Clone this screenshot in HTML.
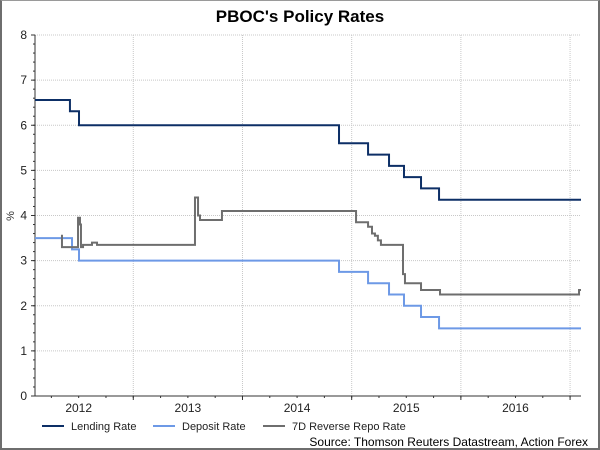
<!DOCTYPE html>
<html><head><meta charset="utf-8"><style>
html,body{margin:0;padding:0;background:#fff}
#wrap{position:relative;width:600px;height:450px;box-sizing:border-box;border:2px solid #6e6e6e;border-top:1px solid #9a9a9a;background:#fff;overflow:hidden}
svg{position:absolute;left:-2px;top:-1px;font-family:"Liberation Sans",Arial,sans-serif}
</style></head><body>
<div id="wrap">
<svg id="chart" width="600" height="450">
<text x="300" y="22" text-anchor="middle" font-size="17" font-weight="bold" fill="#000">PBOC's Policy Rates</text>
<text x="14" y="216" font-size="11" fill="#333" transform="rotate(-90 14 216)" text-anchor="middle">%</text>
<g id="grid"></g><g id="axes"></g><g id="series"></g>
<g>
<line x1="42" y1="426" x2="64" y2="426" stroke="#0d2f66" stroke-width="2"/>
<text x="71" y="430" font-size="11" fill="#222">Lending Rate</text>
<line x1="153" y1="426" x2="175" y2="426" stroke="#6d99e6" stroke-width="2"/>
<text x="182" y="430" font-size="11" fill="#222">Deposit Rate</text>
<line x1="263" y1="426" x2="285" y2="426" stroke="#6e6e6e" stroke-width="2"/>
<text x="292" y="430" font-size="11" fill="#222">7D Reverse Repo Rate</text>
</g>
<text x="588" y="446" text-anchor="end" font-size="12" fill="#000">Source: Thomson Reuters Datastream, Action Forex</text>
</svg></div>
<script>
const yTicks=[0,1,2,3,4,5,6,7,8];
const yearLabels=["2012","2013","2014","2015","2016"];
const lendT=[2012.1,2012.42,2012.503,2014.884,2015.15,2015.342,2015.479,2015.635,2015.8,2017.1];
const lendV=[6.56,6.31,6.0,5.6,5.35,5.1,4.85,4.6,4.35,4.35];
const depT=[2012.1,2012.439,2012.503,2014.884,2015.15,2015.342,2015.479,2015.635,2015.8,2017.1];
const depV=[3.5,3.25,3.0,2.75,2.5,2.25,2.0,1.75,1.5,1.5];
const repoT=[2012.338,2012.347,2012.494,2012.512,2012.521,2012.54,2012.622,2012.668,2013.565,2013.593,2013.611,2013.812,2015.04,2015.15,2015.186,2015.213,2015.24,2015.268,2015.47,2015.488,2015.635,2015.809,2017.082,2017.1];
const repoV=[3.55,3.3,3.95,3.8,3.3,3.35,3.4,3.35,4.4,4.0,3.9,4.1,3.85,3.75,3.6,3.55,3.45,3.35,2.7,2.5,2.35,2.25,2.35,2.35];
const L=35,R=581,T=35,B=396,t0=2012.1,t1=2017.1;
const xS=t=>L+(t-t0)/(t1-t0)*(R-L);
const yS=v=>B-v/8*(B-T);
const NS="http://www.w3.org/2000/svg";
function mk(tag,attrs,parent){const e=document.createElementNS(NS,tag);for(const k in attrs)e.setAttribute(k,attrs[k]);parent.appendChild(e);return e;}
const grid=document.getElementById('grid'),axes=document.getElementById('axes'),ser=document.getElementById('series');
yTicks.forEach(v=>{
 if(v>0){const g=mk('line',{x1:L,x2:R,y1:yS(v),y2:yS(v),stroke:'#c8c8c8','stroke-dasharray':'1,1'},grid);
 
 }
 const tk=mk('line',{x1:L-4,x2:L,y1:yS(v),y2:yS(v),stroke:'#333'},axes);
 
 
 const tx=mk('text',{x:L-8,y:yS(v)+4,'text-anchor':'end','font-size':'12',fill:'#222'},axes);tx.textContent=v;
 
 
});
for(let v=0;v<8;v+=0.2){const m=mk('line',{x1:L-2,x2:L,y1:yS(v),y2:yS(v),stroke:'#333'},axes);
 
 }
for(let y=2013;y<=2017;y++){const x=xS(y);
 const g=mk('line',{x1:x,x2:x,y1:T,y2:B,stroke:'#c8c8c8','stroke-dasharray':'1,1'},grid);
 
 
 const tk=mk('line',{x1:x,x2:x,y1:B,y2:B+4,stroke:'#333'},axes);
 
 }
for(let q=2012;q<2017.1;q+=0.25){if(q<t0)continue;const m=mk('line',{x1:xS(q),x2:xS(q),y1:B,y2:B+2,stroke:'#333'},axes);
 
 }
yearLabels.forEach(s=>{const t=+s+0.5;const tx=mk('text',{x:xS(t),y:412,'text-anchor':'middle','font-size':'12',fill:'#222'},axes);tx.textContent=s;
 
 });
const ax=mk('path',{d:`M${L},${T}V${B}H${R}`,fill:'none',stroke:'#333'},axes);


function step(ts,vs,color,name){let d='';ts.forEach((t,i)=>{const x=xS(t),y=yS(vs[i]);d+=i===0?`M${x},${y}`:`H${x}V${y}`;});
 const p=mk('path',{d:d,fill:'none',stroke:color,'stroke-width':'2'},ser);
 
 }
step(lendT,lendV,'#0d2f66','lending-rate-line');
step(depT,depV,'#6d99e6','deposit-rate-line');
step(repoT,repoV,'#6e6e6e','repo-rate-line');
</script>
</body></html>
